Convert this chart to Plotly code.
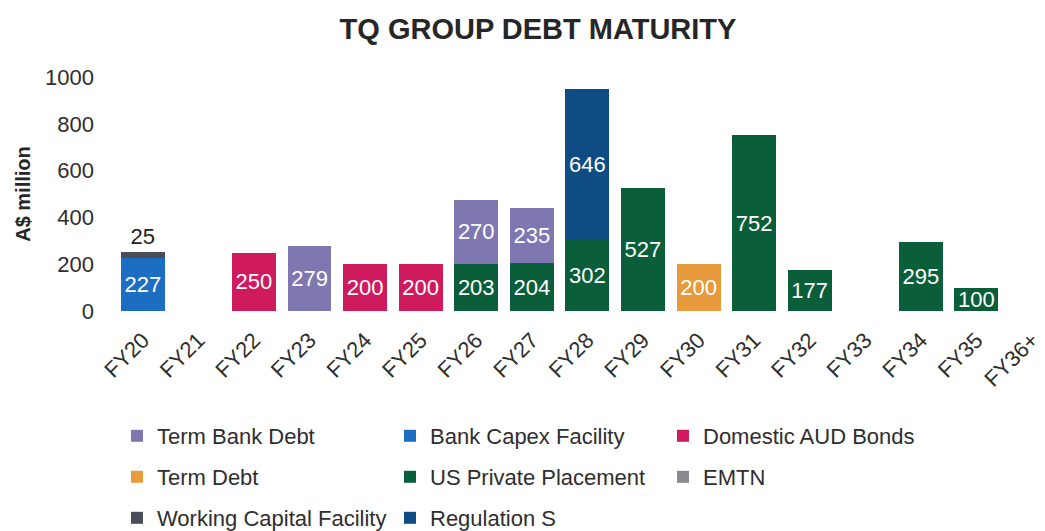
import plotly.graph_objects as go

W, H = 1045, 531

categories = ["FY20", "FY21", "FY22", "FY23", "FY24", "FY25", "FY26", "FY27", "FY28",
              "FY29", "FY30", "FY31", "FY32", "FY33", "FY34", "FY35", "FY36+"]

bank_capex_facility = [227, None, None, None, None, None, None, None, None,
                       None, None, None, None, None, None, None, None]
domestic_aud_bonds = [None, None, 250, None, 200, 200, None, None, None,
                      None, None, None, None, None, None, None, None]
us_private_placement = [None, None, None, None, None, None, 203, 204, 302,
                        527, None, 752, 177, None, 295, 100, None]
term_debt = [None, None, None, None, None, None, None, None, None,
             None, 200, None, None, None, None, None, None]
term_bank_debt = [None, None, None, 279, None, None, 270, 235, None,
                  None, None, None, None, None, None, None, None]
emtn = [None] * 17
working_capital_facility = [25, None, None, None, None, None, None, None, None,
                            None, None, None, None, None, None, None, None]
regulation_s = [None, None, None, None, None, None, None, None, 646,
                None, None, None, None, None, None, None, None]

y_ticks = [0, 200, 400, 600, 800, 1000]

FONT = "Liberation Sans, Arial, sans-serif"
TXT = "#2e2e2e"

# (name, values, color, legend, rank, textposition) in stacking order
series = [
    ("Bank Capex Facility", bank_capex_facility, "#1B6EC2", "legend", 2, "inside"),
    ("Domestic AUD Bonds", domestic_aud_bonds, "#CF1A5E", "legend", 3, "inside"),
    ("US Private Placement", us_private_placement, "#0B5E3A", "legend2", 2, "inside"),
    ("Term Debt", term_debt, "#E89B3D", "legend2", 1, "inside"),
    ("Term Bank Debt", term_bank_debt, "#7F77B0", "legend", 1, "inside"),
    ("EMTN", emtn, "#8C8A8E", "legend2", 3, "inside"),
    ("Working Capital Facility", working_capital_facility, "#4A4C58", "legend3", 1, "outside"),
    ("Regulation S", regulation_s, "#0F4C84", "legend3", 2, "inside"),
]

fig = go.Figure()
for name, vals, color, leg, rank, tpos in series:
    fig.add_trace(go.Bar(
        name=name, x=categories, y=vals,
        marker=dict(color=color, line=dict(width=0)),
        text=[None if v is None else str(v) for v in vals],
        textposition=tpos,
        insidetextanchor="middle",
        textangle=0,
        constraintext="none",
        insidetextfont=dict(family=FONT, size=22, color="white"),
        outsidetextfont=dict(family=FONT, size=22, color="#222222"),
        cliponaxis=False,
        legend=leg, legendrank=rank,
    ))

legend_common = dict(
    orientation="h", xref="container", yref="container",
    xanchor="left", yanchor="middle",
    entrywidth=228, entrywidthmode="pixels",
    font=dict(family=FONT, size=22, color=TXT),
    bgcolor="rgba(0,0,0,0)", traceorder="normal",
)

fig.update_layout(
    width=W, height=H,
    margin=dict(l=115, r=2, t=77, b=220),
    paper_bgcolor="white", plot_bgcolor="white",
    barmode="stack", bargap=0.21,
    uniformtext=dict(minsize=22, mode="show"),
    font=dict(family=FONT, color=TXT),
    title=dict(text="<b>TQ GROUP DEBT MATURITY</b>", x=538 / W, xanchor="center",
               xref="container", yref="container", y=1 - 29 / H, yanchor="middle",
               font=dict(family=FONT, size=29, color="#262626")),
    xaxis=dict(
        type="category", categoryorder="array", categoryarray=categories,
        range=[-0.5, 16.0], showgrid=False, showline=False, zeroline=False,
        tickangle=-45, tickfont=dict(family=FONT, size=22, color=TXT),
        ticks="", ticklabelstandoff=11,
    ),
    yaxis=dict(
        range=[0, 1000], tickvals=y_ticks, showgrid=False, showline=False,
        zeroline=False, ticks="", ticklabelstandoff=20,
        tickfont=dict(family=FONT, size=22, color=TXT),
        title=dict(text="<b>A$ million</b>", font=dict(family=FONT, size=20, color="#262626"),
                   standoff=9),
    ),
    legend=dict(x=117 / W, y=1 - 436 / H, **legend_common),
    legend2=dict(x=117 / W, y=1 - 477 / H, **legend_common),
    legend3=dict(x=117 / W, y=1 - 518 / H, **legend_common),
)

fig.write_html("out.html")
